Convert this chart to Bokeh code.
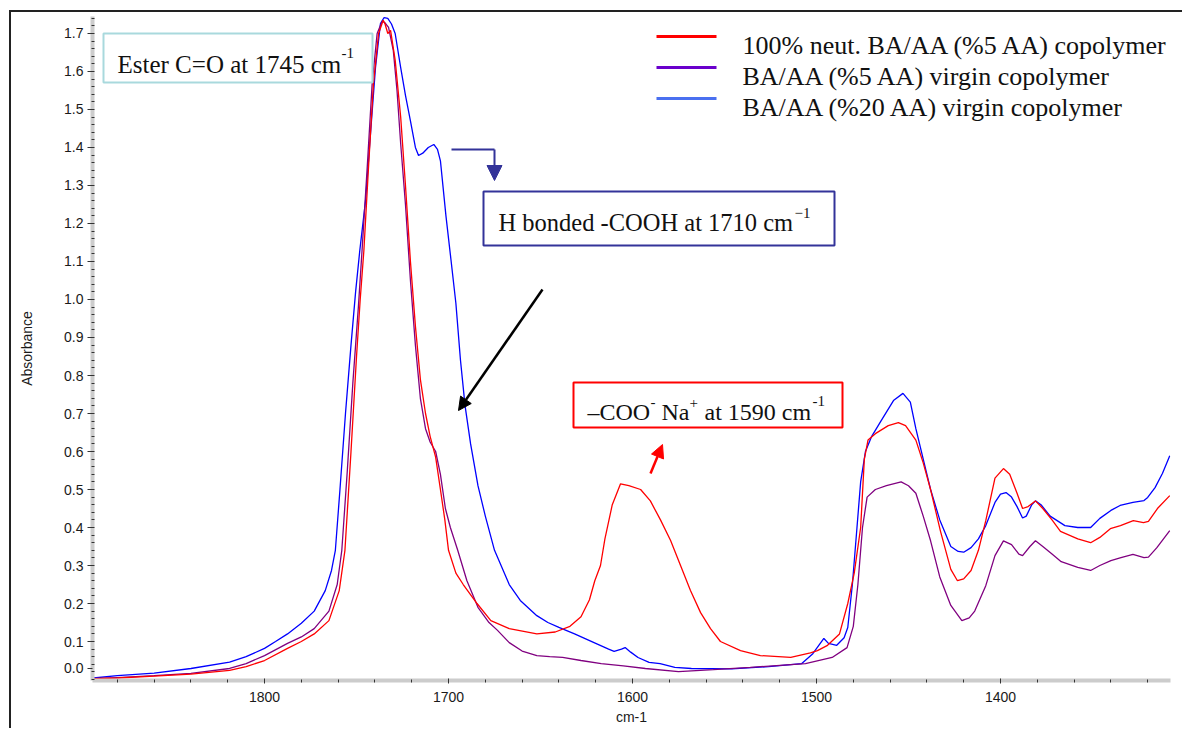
from bokeh.plotting import figure
from bokeh.models import (Range1d, FixedTicker, PrintfTickFormatter,
                          BoxAnnotation, Label, Arrow, NormalHead)
from bokeh.embed import file_html
from bokeh.resources import INLINE
import numpy as np

# ---------------- data ----------------
blue_wn = [1893, 1880, 1860, 1840, 1819, 1810, 1800, 1794, 1787.5, 1780, 1773, 1767, 1763.6, 1761.5,
           1759, 1756, 1753, 1750.5, 1748.2, 1745.1, 1742.4, 1739.7, 1737, 1735, 1733, 1731, 1729,
           1726, 1723.4, 1720.7, 1718, 1716.3, 1714, 1711, 1708, 1706, 1704.4, 1701.4, 1698.7, 1696,
           1693.5, 1691, 1688, 1684, 1680, 1675, 1667, 1661, 1652, 1646, 1640, 1631.5, 1620, 1613,
           1610, 1606, 1604, 1601, 1597, 1591, 1585, 1577, 1568, 1546, 1526, 1508, 1502, 1496,
           1493.5, 1489, 1485, 1483, 1480.5, 1478, 1476, 1473.4, 1470, 1465, 1458, 1453, 1449, 1446,
           1442, 1438, 1433, 1427, 1423, 1420, 1416, 1412, 1408, 1403, 1400, 1397, 1394, 1391, 1388,
           1386, 1383, 1381, 1378, 1373, 1365, 1358, 1351, 1346, 1340, 1335, 1328, 1322, 1320, 1316,
           1312, 1308]
blue_abs = [0.004, 0.010, 0.017, 0.029, 0.046, 0.060, 0.082, 0.100, 0.120, 0.148, 0.180, 0.234, 0.287, 0.340,
            0.50, 0.70, 0.88, 1.02, 1.13, 1.26, 1.437, 1.61, 1.726, 1.742, 1.74, 1.725, 1.70,
            1.61, 1.537, 1.47, 1.40, 1.379, 1.385, 1.40, 1.408, 1.395, 1.365, 1.22, 1.106, 0.99,
            0.84, 0.72, 0.62, 0.51, 0.43, 0.34, 0.25, 0.208, 0.168, 0.150, 0.137, 0.120, 0.095, 0.080,
            0.074, 0.080, 0.084, 0.072, 0.058, 0.045, 0.042, 0.032, 0.029, 0.028, 0.034, 0.042, 0.068, 0.108,
            0.095, 0.090, 0.110, 0.137, 0.25, 0.40, 0.52, 0.60, 0.64, 0.68, 0.735, 0.753, 0.73, 0.66,
            0.58, 0.50, 0.42, 0.35, 0.337, 0.335, 0.347, 0.37, 0.405, 0.466, 0.488, 0.492, 0.48, 0.455, 0.425,
            0.43, 0.46, 0.47, 0.46, 0.43, 0.405, 0.40, 0.40, 0.424, 0.445, 0.458, 0.466, 0.471, 0.479, 0.505,
            0.542, 0.589]

purple_wn = [1893, 1880, 1860, 1840, 1819, 1810, 1800, 1787.5, 1780, 1773, 1765, 1760.5, 1758, 1755,
             1752, 1749, 1747, 1744.2, 1741.5, 1738.8, 1736, 1734.5, 1732.6, 1730, 1728, 1726, 1723.4,
             1720.7, 1718, 1715.3, 1712.5, 1710, 1707, 1704.4, 1701.7, 1699, 1695, 1690, 1684, 1678,
             1673.5, 1667, 1660, 1652, 1645, 1638, 1628, 1617, 1605, 1593, 1575, 1556, 1536, 1506,
             1491.5, 1483.4, 1480, 1477.5, 1475, 1472.5, 1468, 1462, 1454, 1450, 1446, 1442, 1438, 1433,
             1427, 1421, 1417, 1414, 1408, 1403, 1398.4, 1394, 1390, 1388, 1384, 1381, 1377, 1372, 1367,
             1358, 1351, 1346, 1340, 1335, 1328, 1322, 1319.6, 1315, 1308]
purple_abs = [0.002, 0.005, 0.010, 0.016, 0.029, 0.042, 0.063, 0.095, 0.112, 0.134, 0.180, 0.25, 0.34, 0.55,
              0.78, 0.98, 1.129, 1.347, 1.568, 1.70, 1.733, 1.728, 1.716, 1.655, 1.55, 1.41, 1.25,
              1.05, 0.88, 0.74, 0.66, 0.625, 0.60, 0.54, 0.45, 0.40, 0.34, 0.26, 0.19, 0.15,
              0.13, 0.097, 0.075, 0.063, 0.060, 0.058, 0.050, 0.042, 0.036, 0.029, 0.021, 0.026, 0.032, 0.042,
              0.058, 0.084, 0.14, 0.25, 0.40, 0.48, 0.50, 0.51, 0.52, 0.51, 0.49, 0.43, 0.365, 0.27,
              0.195, 0.155, 0.162, 0.18, 0.247, 0.326, 0.365, 0.355, 0.33, 0.326, 0.35, 0.365, 0.35, 0.33, 0.31,
              0.295, 0.287, 0.30, 0.313, 0.32, 0.329, 0.321, 0.322, 0.347, 0.392]

red_wn = [1893, 1880, 1860, 1840, 1819, 1810, 1800, 1787.5, 1780, 1773, 1765, 1759.4, 1756.3, 1753,
          1750, 1748, 1746, 1743.5, 1740.8, 1738, 1735.5, 1734.5, 1733, 1731.5, 1729, 1726, 1723.4,
          1720.7, 1718, 1715.3, 1712.5, 1710, 1707, 1704.4, 1702, 1700, 1696, 1692, 1684.5, 1677,
          1667, 1652, 1642, 1634, 1628, 1623.4, 1620.5, 1617.4, 1615, 1611, 1606.5, 1602, 1595.6,
          1590.3, 1584.8, 1579.3, 1573.9, 1568.5, 1563, 1557.6, 1552.2, 1541.3, 1530.5, 1514, 1503.3,
          1499.5, 1494, 1487.5, 1483, 1479.5, 1476, 1474, 1472, 1468, 1461, 1455.5, 1451.6, 1446,
          1442, 1438, 1432.6, 1427, 1423.4, 1420, 1416, 1412, 1408, 1403, 1398.4, 1395, 1391, 1388,
          1385, 1381, 1377, 1372, 1367.4, 1358, 1351, 1346, 1340.3, 1334.8, 1327.8, 1322.3, 1319.6,
          1314.7, 1308]
red_abs = [0.002, 0.004, 0.009, 0.014, 0.024, 0.034, 0.050, 0.082, 0.100, 0.120, 0.155, 0.234, 0.34, 0.60,
           0.85, 1.00, 1.129, 1.347, 1.568, 1.70, 1.735, 1.725, 1.70, 1.708, 1.63, 1.48, 1.30,
           1.10, 0.93, 0.79, 0.70, 0.64, 0.585, 0.50, 0.42, 0.34, 0.28, 0.25, 0.20, 0.155,
           0.134, 0.120, 0.125, 0.140, 0.165, 0.21, 0.26, 0.30, 0.37, 0.46, 0.515, 0.51, 0.50,
           0.47, 0.42, 0.366, 0.30, 0.234, 0.176, 0.134, 0.100, 0.076, 0.063, 0.058, 0.070,
           0.076, 0.090, 0.120, 0.20, 0.28, 0.40, 0.58, 0.63, 0.647, 0.668, 0.676, 0.668, 0.63,
           0.57, 0.50, 0.39, 0.29, 0.26, 0.265, 0.287, 0.34, 0.418, 0.53, 0.555, 0.54, 0.49, 0.45,
           0.455, 0.47, 0.45, 0.42, 0.39, 0.37, 0.36, 0.374, 0.397, 0.405, 0.418, 0.413, 0.416,
           0.45, 0.484]

series_labels = ["100% neut. BA/AA (%5 AA) copolymer",
                 "BA/AA (%5 AA) virgin copolymer",
                 "BA/AA (%20 AA) virgin copolymer"]
legend_colors = ["#ff0000", "#6a00cc", "#4a70f0"]
x_ticks = [1800, 1700, 1600, 1500, 1400]
# the lowest label ("0.0") is drawn slightly above the zero line in the original
y_ticks = [0.029, 0.1, 0.2, 0.3, 0.4, 0.5, 0.6, 0.7, 0.8, 0.9, 1.0, 1.1, 1.2, 1.3, 1.4, 1.5, 1.6, 1.7]

# ---------------- layout helpers (page pixels -> data) ----------------
X_LEFT, X_RIGHT = 1893.5, 1307.6
Y_BOTTOM, Y_TOP = -0.0026, 1.7447
FRAME_L, FRAME_T, FRAME_W, FRAME_H = 92, 16, 1078, 664
CANVAS_L, CANVAS_T = 11, 12   # canvas origin on the page (after css margin + border)


def px2x(px):
    return X_LEFT + (px - FRAME_L) / FRAME_W * (X_RIGHT - X_LEFT)


def py2y(py):
    return Y_TOP - (py - FRAME_T) / FRAME_H * (Y_TOP - Y_BOTTOM)


p = figure(frame_width=FRAME_W, frame_height=FRAME_H,
           min_border_left=FRAME_L - CANVAS_L, min_border_top=FRAME_T - CANVAS_T,
           min_border_right=12, min_border_bottom=48,
           x_range=Range1d(X_LEFT, X_RIGHT), y_range=Range1d(Y_BOTTOM, Y_TOP),
           output_backend="svg", toolbar_location=None)
p.styles = {"margin-left": "9px", "margin-top": "10px",
            "border-left": "2px solid #222222", "border-top": "2px solid #222222"}
p.outline_line_color = None
p.xgrid.visible = False
p.ygrid.visible = False
p.background_fill_color = "white"
p.border_fill_color = "white"

# curves
p.line(blue_wn, blue_abs, line_color="#0000ff", line_width=1.3)
p.line(purple_wn, purple_abs, line_color="#800080", line_width=1.3)
p.line(red_wn, red_abs, line_color="#ff0000", line_width=1.3)

# axes
for ax in (p.xaxis[0], p.yaxis[0]):
    ax.axis_line_color = "#cccccc"
    ax.axis_line_width = 4
    ax.major_tick_line_color = "#333333"
    ax.minor_tick_line_color = "#333333"
    ax.major_label_text_font = "Liberation Sans"
    ax.major_label_text_font_size = "14px"
    ax.major_label_text_color = "#1a1a1a"
    ax.axis_label_text_font = "Liberation Sans"
    ax.axis_label_text_font_size = "14px"
    ax.axis_label_text_font_style = "normal"
    ax.axis_label_text_color = "#1a1a1a"

p.xaxis.ticker = FixedTicker(ticks=x_ticks, minor_ticks=list(np.arange(1320, 1900, 20)))
p.xaxis.axis_label = "cm-1"
p.xaxis.major_tick_out = 3
p.xaxis.major_tick_in = 2
p.xaxis.minor_tick_out = 2
p.xaxis.minor_tick_in = 1
p.xaxis.major_label_standoff = 8
p.xaxis.axis_label_standoff = 4

p.yaxis.ticker = FixedTicker(ticks=y_ticks, minor_ticks=list(np.round(np.arange(0, 1.75, 0.02), 3)))
p.yaxis.formatter = PrintfTickFormatter(format="%.1f")
p.yaxis.major_label_overrides = {y_ticks[0]: "0.0"}
p.yaxis.axis_label = "Absorbance"
p.yaxis.major_tick_out = 5
p.yaxis.major_tick_in = 0
p.yaxis.minor_tick_out = 1
p.yaxis.minor_tick_in = 2
p.yaxis.major_label_standoff = 4
p.yaxis.axis_label_standoff = 26

SERIF = "Liberation Serif"


def label(px, py, text, size, color="#111111", font=SERIF, align="left", baseline="alphabetic"):
    p.add_layout(Label(x=px2x(px), y=py2y(py), text=text, text_font=font,
                       text_font_size=size, text_color=color,
                       text_align=align, text_baseline=baseline))


def box(l, t, r, b, color):
    p.add_layout(BoxAnnotation(left=px2x(l), right=px2x(r), top=py2y(t), bottom=py2y(b),
                               fill_color="white", fill_alpha=1, line_color=color,
                               line_width=2, line_alpha=1))


def arrow(x0, y0, x1, y1, color, width, head=None):
    end = None
    if head:
        end = NormalHead(size=head, fill_color=color, line_color=color, line_width=1)
    p.add_layout(Arrow(x_start=px2x(x0), y_start=py2y(y0), x_end=px2x(x1), y_end=py2y(y1),
                       line_color=color, line_width=width, end=end))


# legend drawn by hand (sample line + text per series)
legend_line_y = [36, 67, 98]
legend_text_y = [45, 76, 107]
for lab, col, ly, ty in zip(series_labels, legend_colors, legend_line_y, legend_text_y):
    arrow(656, ly, 716, ly, col, 3)
    label(742, ty, lab, "26px")

# Ester box
box(103, 33, 372, 82, "#a9d9dd")
label(117, 64, "Ester C=O at 1745 cm", "25px")
label(341, 52, "-1", "15px")

# H bonded box
box(483, 191, 834, 245, "#333399")
label(498, 222, "H bonded -COOH at 1710 cm", "24.5px")
label(794, 212, "\u22121", "15px")
arrow(451, 149, 494, 149, "#333399", 2)
arrow(494, 149, 494, 180, "#333399", 2, head=15)

# COO- Na+ box
box(573, 382, 842, 427, "#ff0000")
label(587, 411, "\u2013COO", "24px")
label(650, 401, "-", "15px")
label(661, 411, "Na", "24px")
label(689, 402, "+", "15px")
label(704, 411, "at 1590 cm", "24px")
label(812, 400, "-1", "15px")
arrow(650, 473, 662, 444, "#ff0000", 2.5, head=13)

# black arrow
arrow(542, 289, 458, 410, "#000000", 2.5, head=13)

open("out.html", "w").write(file_html(p, INLINE))
